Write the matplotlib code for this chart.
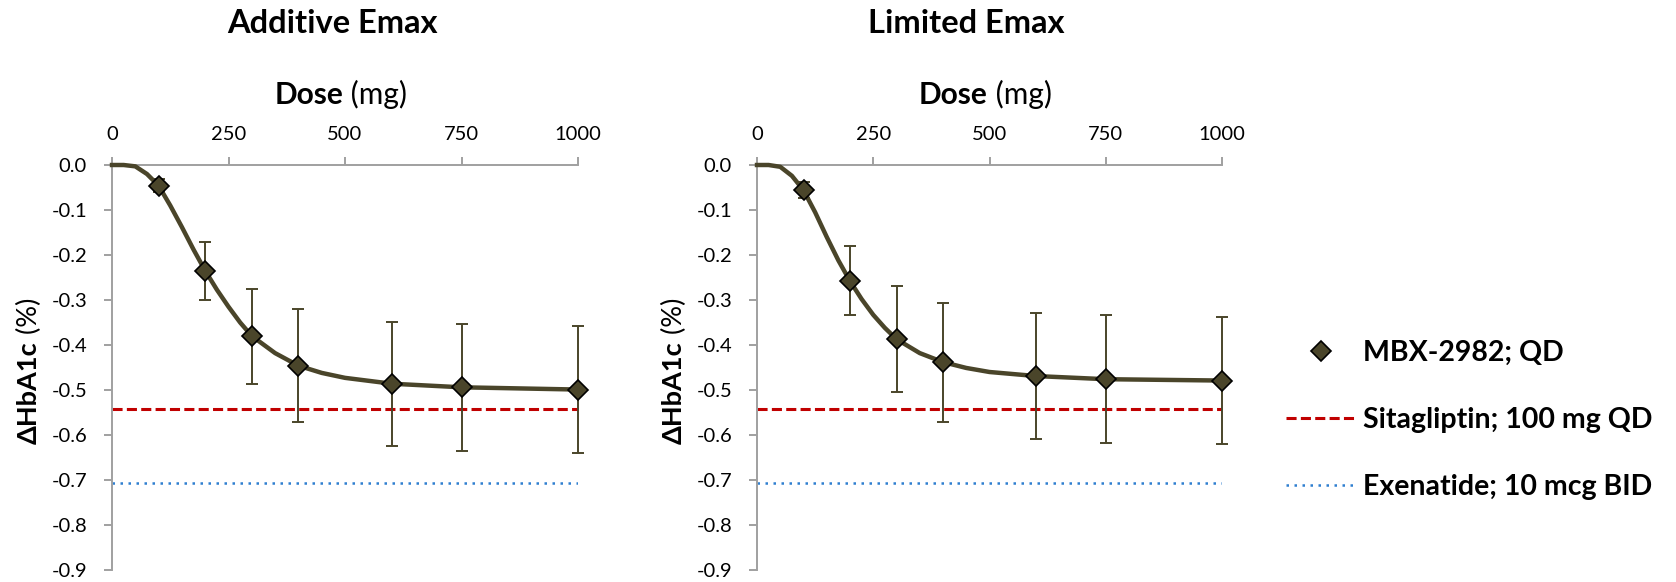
import numpy as np
import matplotlib
matplotlib.use("Agg")
import matplotlib.pyplot as plt
from matplotlib.lines import Line2D
from matplotlib.ticker import FormatStrFormatter

plt.rcParams['font.family'] = ['Lato', 'DejaVu Sans']
plt.rcParams['axes.unicode_minus'] = False

# observed doses and mean change in HbA1c
doses = [100, 200, 300, 400, 600, 750, 1000]
add_mean = [-0.046, -0.235, -0.38, -0.446, -0.486, -0.494, -0.499]
add_upper = [-0.032, -0.171, -0.275, -0.319, -0.349, -0.354, -0.357]
add_lower = [-0.060, -0.300, -0.486, -0.571, -0.624, -0.635, -0.640]
lim_mean = [-0.056, -0.258, -0.387, -0.438, -0.469, -0.476, -0.479]
lim_upper = [-0.038, -0.181, -0.268, -0.306, -0.329, -0.334, -0.337]
lim_lower = [-0.074, -0.333, -0.504, -0.571, -0.609, -0.617, -0.620]

# model curves
curve_doses = [0, 25, 50, 75, 100, 125, 150, 175, 200, 225, 250, 275, 300,
               350, 400, 450, 500, 600, 750, 1000]
add_curve = [0, 0, -0.003, -0.02, -0.046, -0.09, -0.138, -0.188, -0.235, -0.277,
             -0.315, -0.35, -0.38, -0.418, -0.446, -0.462, -0.473, -0.486, -0.494, -0.499]
lim_curve = [0, 0, -0.004, -0.024, -0.056, -0.105, -0.16, -0.212, -0.258, -0.298,
             -0.333, -0.362, -0.387, -0.418, -0.438, -0.451, -0.46, -0.469, -0.476, -0.479]

# comparators
sitagliptin = -0.542
exenatide = -0.706

titles = ['Additive Emax', 'Limited Emax']
x_ticks = [0, 250, 500, 750, 1000]
y_ticks = [0.0, -0.1, -0.2, -0.3, -0.4, -0.5, -0.6, -0.7, -0.8, -0.9]

olive = '#4a452a'
red = '#c00000'
blue = '#2f7fd0'
grey = '#a0a0a0'

fig = plt.figure(figsize=(16.76, 5.82), dpi=100)
ax1 = fig.add_axes([112 / 1676, 1 - 570 / 582, 466 / 1676, 405 / 582])
ax2 = fig.add_axes([757 / 1676, 1 - 570 / 582, 465 / 1676, 405 / 582])

panels = [
    (ax1, add_mean, add_upper, add_lower, add_curve, 332),
    (ax2, lim_mean, lim_upper, lim_lower, lim_curve, 966),
]

for i, (ax, mean, upper, lower, curve, title_x) in enumerate(panels):
    mean = np.array(mean)
    yerr = [mean - np.array(lower), np.array(upper) - mean]

    ax.axhline(sitagliptin, color=red, lw=2.2, dashes=(3.3, 1.4), zorder=1)
    ax.axhline(exenatide, color=blue, lw=1.8, dashes=(1, 2.2), zorder=1)
    ax.errorbar(doses, mean, yerr=yerr, fmt='none', ecolor=olive, elinewidth=1.4,
                capsize=4, capthick=1.4, zorder=2, clip_on=False)
    ax.plot(curve_doses, curve, color=olive, lw=3.2, zorder=3, clip_on=False)
    ax.plot(doses, mean, 'D', color=olive, markeredgecolor='black',
            markeredgewidth=1.2, markersize=10, zorder=4, clip_on=False)

    ax.set_xlim(0, 1000)
    ax.set_ylim(-0.9, 0)
    ax.set_xticks(x_ticks)
    ax.set_yticks(y_ticks)
    ax.yaxis.set_major_formatter(FormatStrFormatter('%.1f'))
    ax.xaxis.tick_top()
    for side in ['right', 'bottom']:
        ax.spines[side].set_visible(False)
    for side in ['left', 'top']:
        ax.spines[side].set_color(grey)
        ax.spines[side].set_linewidth(1.4)
    ax.tick_params(direction='out', length=6, width=1.4, color=grey,
                   labelsize=14.5)
    ax.tick_params(axis='y', pad=12)
    ax.tick_params(axis='x', pad=10)

    # axis titles with bold and regular parts
    ax.text(0.496, 1.151, 'Dose', transform=ax.transAxes, ha='right',
            va='baseline', fontsize=21.5, fontweight='bold')
    ax.text(0.496, 1.151, ' (mg)', transform=ax.transAxes, ha='left',
            va='baseline', fontsize=21.5)
    ax.text(-0.161, 0.565, 'ΔHbA1c', transform=ax.transAxes, ha='right',
            va='baseline', rotation=90, rotation_mode='anchor',
            fontsize=19.5, fontweight='bold')
    ax.text(-0.161, 0.565, ' (%)', transform=ax.transAxes, ha='left',
            va='baseline', rotation=90, rotation_mode='anchor', fontsize=19.5)

    fig.text(title_x / 1676, 1 - 33 / 582, titles[i], ha='center', va='baseline',
             fontsize=23.5, fontweight='bold')

# legend
handles = [
    Line2D([], [], ls='none', marker='D', color=olive, markeredgecolor='black',
           markeredgewidth=1.2, markersize=10),
    Line2D([], [], color=red, lw=2.2, dashes=(3.3, 1.4)),
    Line2D([], [], color=blue, lw=1.8, dashes=(1, 2.2)),
]
labels = ['MBX-2982; QD', 'Sitagliptin; 100 mg QD', 'Exenatide; 10 mcg BID']
leg = fig.legend(handles, labels, loc='center left',
                 bbox_to_anchor=(1286 / 1676, 1 - 420 / 582), frameon=False,
                 handlelength=2.45, handletextpad=0.25, labelspacing=1.45,
                 borderpad=0, borderaxespad=0,
                 prop={'size': 20.5, 'weight': 'bold'})

fig.savefig('out.png', dpi=100)
